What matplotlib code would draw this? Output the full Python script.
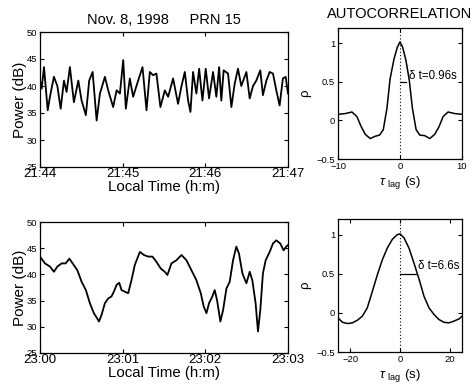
import numpy as np
import matplotlib
matplotlib.use("Agg")
from matplotlib import pyplot as plt

plt.rcParams['font.family'] = ['Liberation Sans', 'DejaVu Sans']
plt.rcParams['mathtext.fontset'] = 'custom'
plt.rcParams['mathtext.rm'] = 'Liberation Sans'
plt.rcParams['mathtext.it'] = 'Liberation Sans:italic'

# 21:44 - 21:47 power record (seconds from 21:44, dB)
t1 = [0, 1.2, 2.9, 5.6, 7.2, 10.1, 12.6, 15.0, 17.4, 19.3, 21.7, 24.6, 27.8, 30.2,
      33.3, 35.7, 38.2, 41.1, 43.5, 47.1, 49.5, 53.1, 55.6, 58.0, 60.4, 62.3, 65.2,
      67.6, 70.0, 74.4, 77.3, 79.7, 82.1, 84.5, 87.4, 90.6, 93.0, 96.6, 100.2, 102.7,
      105.1, 107.5, 109.2, 111.1, 113.5, 115.5, 117.9, 120.3, 122.7, 125.6, 128.0,
      130.0, 131.6, 133.3, 136.5, 138.9, 141.3, 143.7, 146.1, 149.8, 152.2, 154.6,
      157.0, 159.9, 161.8, 164.3, 166.7, 169.1, 171.5, 173.9, 176.3, 178.3, 180.0]
p1 = [41.0, 39.5, 43.5, 35.5, 38.0, 41.7, 40.0, 35.8, 41.0, 38.9, 43.5, 37.0, 41.0, 37.3,
      34.6, 41.0, 42.6, 33.6, 38.6, 41.7, 39.2, 36.1, 39.2, 38.6, 44.8, 35.8, 41.4,
      38.0, 40.0, 43.5, 35.5, 42.6, 42.0, 42.3, 36.1, 39.2, 38.0, 41.4, 36.7, 40.0,
      42.6, 37.3, 35.2, 42.6, 38.6, 43.2, 37.3, 43.2, 37.7, 42.6, 38.0,
      43.5, 37.3, 42.9, 42.3, 36.1, 40.4, 43.2, 40.0, 42.6, 37.7, 40.0,
      41.0, 42.9, 38.3, 41.0, 42.6, 42.3, 39.2, 36.4, 41.4, 41.7, 38.6]

# 23:00 - 23:03 power record
t2 = [0, 3.6, 7.2, 10.1, 12.6, 15.7, 18.6, 21.3, 23.7, 27.1, 30.2, 33.3, 36.2, 39.1,
      41.5, 42.8, 44.7, 47.1, 49.5, 51.9, 53.6, 55.6, 57.5, 59.2, 61.6, 64.0, 66.4,
      68.8, 72.5, 75.4, 78.5, 81.6, 84.5, 87.7, 90.6, 92.5, 95.4, 99.0, 102.7, 106.3,
      109.9, 113.5, 116.7, 118.8, 120.8, 122.7, 125.1, 126.8, 128.5, 130.9, 132.9,
      135.3, 137.7, 140.1, 142.5, 144.4, 146.9, 149.8, 152.2, 154.1, 156.5, 158.2,
      159.9, 161.8, 163.8, 166.7, 169.1, 171.5, 174.4, 176.8, 178.7, 180.0]
p2 = [43.4, 42.1, 41.5, 40.5, 41.5, 42.1, 42.1, 43.0, 42.1, 40.8, 38.6, 37.0, 34.5, 32.6,
      31.6, 31.0, 32.3, 34.5, 35.4, 35.8, 36.7, 38.0, 38.4, 37.0, 36.7, 36.4, 38.9,
      41.8, 44.3, 43.7, 43.4, 43.4, 42.4, 41.1, 40.5, 39.9, 42.1, 42.7, 43.7, 42.7,
      40.8, 38.9, 36.4, 33.9, 32.6, 34.5, 35.8, 37.0, 35.1, 31.0, 33.2,
      37.3, 38.6, 42.7, 45.3, 44.0, 40.2, 38.3, 40.5, 38.9, 34.5, 29.1,
      33.2, 40.2, 42.7, 44.3, 45.9, 46.5, 45.9, 44.6, 45.3, 45.6]

# autocorrelations
lag1 = [-10, -8.8, -7.75, -6.95, -6.26, -5.6, -4.8, -4.0, -3.3, -2.7, -2.1, -1.6, -0.96,
        -0.43, 0, 0.43, 0.96, 1.5, 2.0, 2.6, 3.2, 4.0, 4.8, 5.6, 6.3, 6.95, 7.75, 8.8, 10]
rho1 = [0.08, 0.09, 0.11, 0.05, -0.08, -0.18, -0.235, -0.205, -0.19, -0.12, 0.16, 0.54,
        0.80, 0.95, 1.02, 0.95, 0.78, 0.52, 0.16, -0.12, -0.19, -0.197, -0.235, -0.18,
        -0.08, 0.05, 0.11, 0.09, 0.08]
lag2 = [-25, -23.2, -21.2, -19.2, -17.2, -15.2, -13.2, -11.1, -9.1, -7.1, -5.1, -3.1,
        -1.1, 0, 1.6, 3.6, 5.6, 7.7, 9.7, 11.7, 13.7, 15.7, 17.7, 19.7, 21.7, 23.8, 25]
rho2 = [-0.064, -0.12, -0.136, -0.128, -0.094, -0.043, 0.064, 0.28, 0.49, 0.68, 0.83,
        0.94, 1.0, 1.01, 0.96, 0.83, 0.64, 0.43, 0.21, 0.064, -0.02, -0.085, -0.12,
        -0.128, -0.106, -0.077, -0.043]
dt1 = 0.96
dt2 = 6.6

W, H = 473, 385
fig = plt.figure(figsize=(W / 100, H / 100), dpi=100)


def box(l, t, r, b):
    return [l / W, 1 - b / H, (r - l) / W, (b - t) / H]


ax1 = fig.add_axes(box(40, 32, 288, 167))
ax2 = fig.add_axes(box(338, 28, 462, 159))
ax3 = fig.add_axes(box(40, 222, 288, 353))
ax4 = fig.add_axes(box(338, 219, 462, 352))

for ax in (ax1, ax2, ax3, ax4):
    ax.tick_params(direction='in', top=True, right=True, length=3, width=0.8,
                   labelsize=6.8, pad=2)
    for s in ax.spines.values():
        s.set_linewidth(0.9)

for ax, t, p, lbls in ((ax1, t1, p1, ['21:44', '21:45', '21:46', '21:47']),
                       (ax3, t2, p2, ['23:00', '23:01', '23:02', '23:03'])):
    ax.plot(t, p, color='black', lw=1.3)
    ax.set_xlim(0, 180)
    ax.set_ylim(25, 50)
    ax.set_xticks([0, 60, 120, 180])
    ax.set_xticklabels(lbls, fontsize=9.5)
    ax.set_yticks([25, 30, 35, 40, 45, 50])
    ax.set_ylabel('Power (dB)', fontsize=11, labelpad=0)
    ax.set_xlabel('Local Time (h:m)', fontsize=10.8, labelpad=0)
    ax.tick_params(axis='x', pad=0.5)

ax1.set_title('Nov. 8, 1998     PRN 15', fontsize=10.5, pad=6)

for ax, lag, rho, lim, ticks, dt, tx, ty in (
        (ax2, lag1, rho1, 10, [-10, 0, 10], dt1, 1.5, 0.58),
        (ax4, lag2, rho2, 25, [-20, 0, 20], dt2, 7.4, 0.6)):
    ax.plot(lag, rho, color='black', lw=1.1)
    ax.axvline(0, color='black', lw=0.8, ls=(0, (1, 2)))
    ax.plot([0, dt], [0.5, 0.5], color='black', lw=0.9)
    ax.text(tx, ty, '\u03b4 t=%gs' % dt, fontsize=8.3, ha='left', va='center')
    ax.set_xlim(-lim, lim)
    ax.set_ylim(-0.5, 1.2)
    ax.set_xticks(ticks)
    ax.set_yticks([-0.5, 0, 0.5, 1])
    ax.set_yticklabels(['\u22120.5', '0', '0.5', '1'])
    ax.set_ylabel('\u03c1', fontsize=9.5, labelpad=4)
    ax.set_xlabel(r'$\tau$ $_{\rm lag}$ (s)', fontsize=9.5, labelpad=2)

ax2.set_title('AUTOCORRELATION', fontsize=10.5, pad=7)

fig.savefig('out.png', dpi=100)
